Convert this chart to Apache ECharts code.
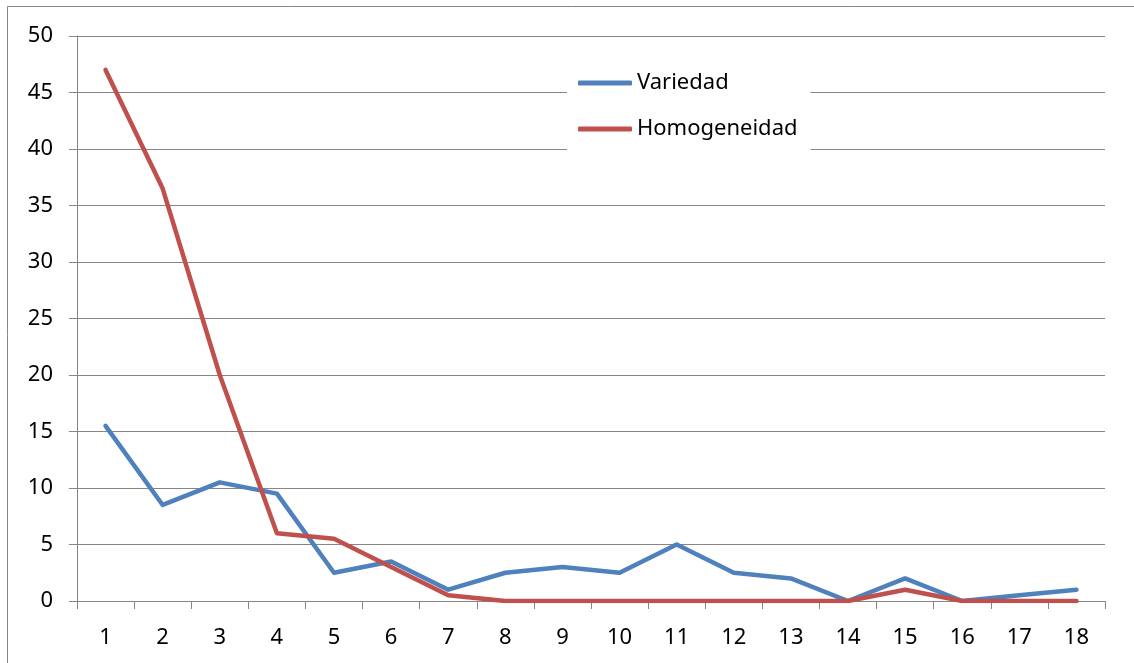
<!DOCTYPE html>
<html>
<head>
<meta charset="utf-8">
<script src="https://cdn.jsdelivr.net/npm/echarts@6/dist/echarts.min.js"></script>
<style>
html, body { margin: 0; padding: 0; background: #fff; }
#chart { width: 1134px; height: 663px; }
</style>
</head>
<body>
<div id="chart"></div>
<script>
var categories = ['1','2','3','4','5','6','7','8','9','10','11','12','13','14','15','16','17','18'];
var variedad = [15.5, 8.5, 10.5, 9.5, 2.5, 3.5, 1, 2.5, 3, 2.5, 5, 2.5, 2, 0, 2, 0, 0.5, 1];
var homogeneidad = [47, 36.5, 20, 6, 5.5, 3, 0.5, 0, 0, 0, 0, 0, 0, 0, 1, 0, 0, 0];

var fontName = 'Noto Sans';
var gray = '#868686';

var chart = echarts.init(document.getElementById('chart'));
var option = {
    animation: false,
    backgroundColor: '#fff',
    textStyle: { fontFamily: fontName },
    graphic: [{
        type: 'rect',
        shape: { x: 7.5, y: 6.5, width: 1300, height: 800 },
        style: { fill: 'none', stroke: gray, lineWidth: 1 },
        silent: true,
        z: -1
    }],
    grid: { left: 77, right: 29, top: 36, bottom: 62 },
    legend: {
        orient: 'vertical',
        left: 567,
        top: 60,
        backgroundColor: '#fff',
        padding: [12, 13, 12, 11],
        itemGap: 24,
        itemWidth: 54,
        itemHeight: 5,
        icon: 'roundRect',
        textStyle: { fontSize: 22, color: '#000', fontFamily: fontName },
        data: ['Variedad', 'Homogeneidad'],
        z: 10
    },
    xAxis: {
        type: 'category',
        boundaryGap: true,
        data: categories,
        axisLine: { lineStyle: { color: gray, width: 1 } },
        axisTick: { show: true, length: 8, lineStyle: { color: gray } },
        axisLabel: { color: '#000', fontSize: 22, margin: 26 }
    },
    yAxis: {
        type: 'value',
        min: 0,
        max: 50,
        interval: 5,
        axisLine: { show: true, lineStyle: { color: gray, width: 1 } },
        axisTick: { show: true, length: 8, lineStyle: { color: gray } },
        axisLabel: { color: '#000', fontSize: 22, margin: 24 },
        splitLine: { lineStyle: { color: gray, width: 1 } }
    },
    series: [
        {
            name: 'Variedad',
            type: 'line',
            data: variedad,
            symbol: 'none',
            lineStyle: { color: '#4F81BD', width: 4.5, cap: 'round', join: 'round' },
            itemStyle: { color: '#4F81BD' },
            z: 3
        },
        {
            name: 'Homogeneidad',
            type: 'line',
            data: homogeneidad,
            symbol: 'none',
            lineStyle: { color: '#C0504D', width: 4.5, cap: 'round', join: 'round' },
            itemStyle: { color: '#C0504D' },
            z: 4
        }
    ]
};
chart.setOption(option);
</script>
</body>
</html>
